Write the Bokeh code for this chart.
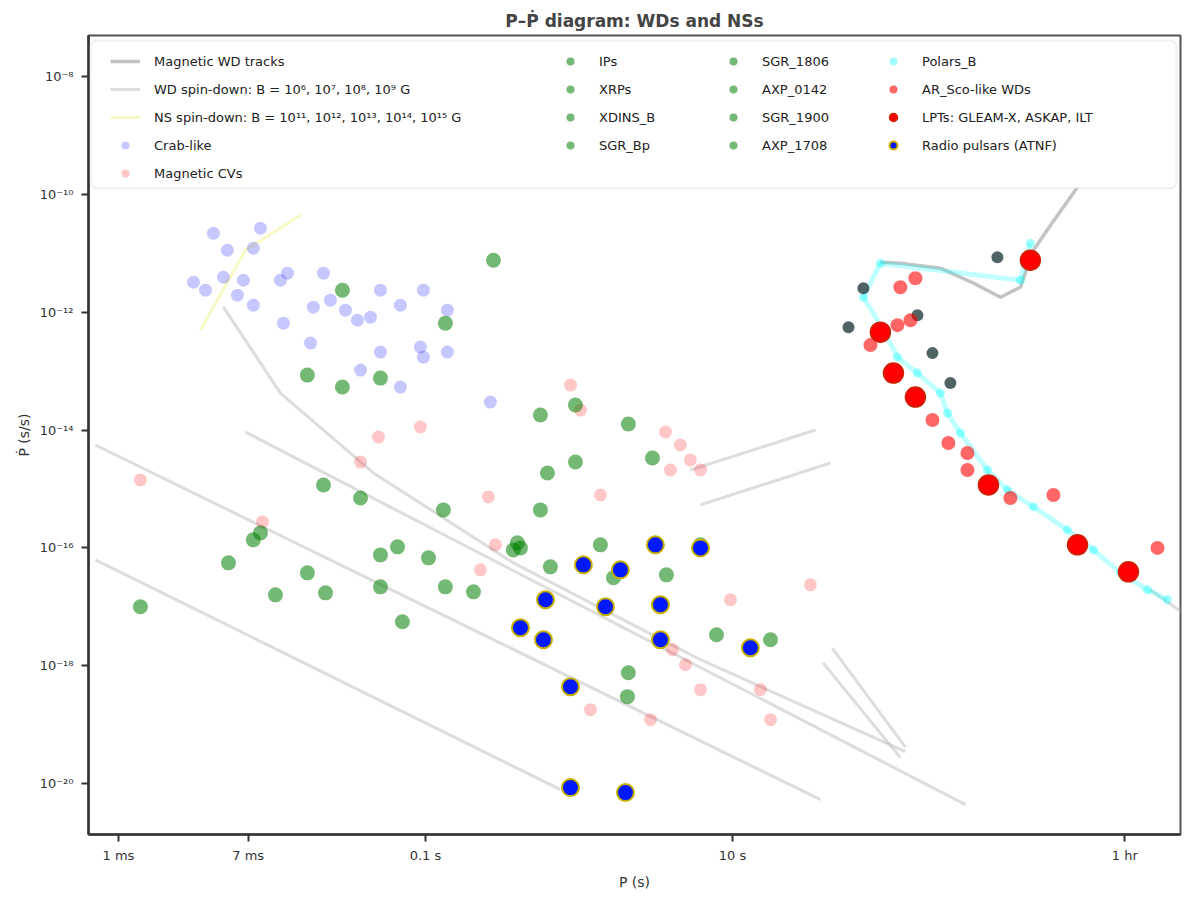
import numpy as np
from bokeh.plotting import figure
from bokeh.models import FixedTicker, Legend, LegendItem, BoxAnnotation, Range1d
from bokeh.embed import file_html
from bokeh.resources import INLINE

# ---------------- data (log10 P [s], log10 Pdot [s/s]) ----------------
x_ticks = [1e-3, 0.007, 0.1, 10, 3600]
x_tick_labels = ["1 ms", "7 ms", "0.1 s", "10 s", "1 hr"]
y_ticks = [1e-8, 1e-10, 1e-12, 1e-14, 1e-16, 1e-18, 1e-20]
y_tick_labels = ["10⁻⁸", "10⁻¹⁰", "10⁻¹²", "10⁻¹⁴", "10⁻¹⁶", "10⁻¹⁸", "10⁻²⁰"]

# pale blue cluster
crab_logP = [-2.381, -2.075, -2.290, -2.121, -2.511, -2.316, -2.186, -2.225, -2.121, -1.945,
             -1.899, -1.664, -1.925, -1.730, -1.749, -1.443, -1.358, -1.293, -1.163, -1.013,
             -0.857, -1.293, -1.033, -1.013, -0.857, -1.423, -1.163, -0.577, -2.433, -1.619, -1.521]
crab_logPdot = [-10.661, -10.576, -10.949, -10.915, -11.492, -11.407, -11.458, -11.712, -11.881, -11.458,
                -11.339, -11.339, -12.186, -11.915, -12.525, -12.136, -12.085, -11.627, -11.881, -11.627,
                -11.966, -12.678, -12.593, -12.763, -12.678, -12.983, -13.271, -13.525, -11.627, -11.797, -11.966]

# pale red points
mcv_logP = [-1.306, -1.033, -0.055, -1.423, -2.857, -2.062, -0.590, -0.544, -0.642, 0.140,
            0.564, 0.661, 0.726, 0.792, 0.596, 1.508, 0.609, 0.694, 0.792, 1.182,
            1.248, 0.466, 0.075, 0.987, 0.010]
mcv_logPdot = [-14.119, -13.949, -13.237, -14.542, -14.847, -15.559, -15.136, -15.949, -16.373, -15.102,
               -14.034, -14.254, -14.508, -14.678, -14.678, -16.627, -17.729, -17.983, -18.407, -18.407,
               -18.915, -18.915, -18.746, -16.881, -13.661]

# green points, 8 groups
green_labels = ["IPs", "XRPs", "XDINS_B", "SGR_Bp", "SGR_1806", "AXP_0142", "SGR_1900", "AXP_1708"]
green_logP = [-0.557, -1.541, -0.870, -1.769, -1.541,
              -1.293, -0.251, -0.023, 0.322, 0.479,
              -0.205, -0.023, -1.664, -1.423, -0.883,
              -0.251, -2.121, -2.075, -2.283, -1.769,
              -1.651, -1.977, -2.857, -1.293, -1.182,
              -1.293, -0.980, -0.870, -0.687, -1.150,
              -0.427, -0.401, -0.186, -0.381, 0.225,
              0.570, 0.896, 0.316, 0.322, 0.140, 0.792, 1.248]
green_logPdot = [-11.119, -11.627, -12.186, -13.068, -13.271,
                 -13.119, -13.746, -13.576, -13.898, -14.475,
                 -14.729, -14.542, -14.932, -15.153, -15.356,
                 -15.356, -15.864, -15.746, -16.254, -16.424,
                 -16.763, -16.797, -17.000, -16.661, -15.983,
                 -16.119, -16.169, -16.661, -16.746, -17.254,
                 -16.034, -15.915, -16.322, -16.000, -16.508,
                 -16.458, -17.475, -18.525, -18.119, -15.949, -15.949, -17.559]
green_group = [0] * 5 + [1] * 5 + [2] * 5 + [3] * 5 + [4] * 5 + [5] * 5 + [6] * 5 + [7] * 7

# bright blue points
psr_logP = [0.498, 0.792, 0.029, -0.218, 0.173, 0.531, -0.381, -0.231, 0.531, 1.117,
            -0.055, -0.055, 0.303, 0.270]
psr_logPdot = [-15.949, -16.000, -16.288, -16.881, -17.000, -16.966, -17.356, -17.559, -17.559, -17.695,
               -18.356, -20.068, -20.153, -16.373]

# light red (right branch)
arsco_logP = [2.094, 2.192, 2.075, 2.160, 2.303, 2.407, 2.531, 2.531, 2.811, 3.091, 3.769, 1.899]
arsco_logPdot = [-11.576, -11.424, -12.220, -12.136, -13.831, -14.220, -14.390, -14.678, -15.153, -15.102,
                 -16.000, -12.559]

# bright red (right branch)
lpt_logP = [2.941, 1.964, 2.049, 2.192, 2.668, 3.248, 3.580]
lpt_logPdot = [-11.119, -12.339, -13.034, -13.441, -14.932, -15.949, -16.407]

# cyan track
polar_logP = [2.941, 2.876, 1.964, 1.853, 1.984, 2.075, 2.205, 2.355, 2.401, 2.485,
              2.661, 2.792, 2.961, 3.182, 3.352, 3.528, 3.704, 3.834]
polar_logPdot = [-10.831, -11.458, -11.169, -11.746, -12.305, -12.763, -13.034, -13.373, -13.712, -14.051,
                 -14.678, -15.017, -15.305, -15.695, -16.034, -16.424, -16.712, -16.881]

# dark grey points (unlabelled)
dark_logP = [2.726, 1.853, 1.756, 2.205, 2.303, 2.420]
dark_logPdot = [-11.068, -11.593, -12.254, -12.051, -12.695, -13.203]

# grey track (right)
track_logP = [3.248, 3.072, 2.961, 2.876, 2.746, 2.570, 2.355, 2.094, 1.964]
track_logPdot = [-9.881, -10.525, -10.949, -11.576, -11.746, -11.508, -11.254, -11.169, -11.153]

# grey spin-down lines (each a polyline)
bline_logP = [[-3.150, -0.121], [-3.150, 1.573], [-2.173, 2.518],
              [-2.316, -1.945, -1.339, -0.427, 0.792, 2.127],
              [0.726, 1.541], [0.792, 1.638], [1.650, 2.127], [1.590, 2.094],
              [3.723, 3.951]]
bline_logPdot = [[-16.203, -20.102], [-14.254, -20.271], [-14.034, -20.356],
                 [-11.915, -13.373, -14.729, -16.254, -17.898, -19.458],
                 [-14.678, -14.000], [-15.271, -14.559], [-17.700, -19.380], [-17.950, -19.560],
                 [-16.712, -17.136]]

# yellow line
ns_logP = [-2.466, -2.173, -1.814]
ns_logPdot = [-12.305, -10.949, -10.356]

col1_labels = ["Magnetic WD tracks", "WD spin-down: B = 10⁶, 10⁷, 10⁸, 10⁹ G",
               "NS spin-down: B = 10¹¹, 10¹², 10¹³, 10¹⁴, 10¹⁵ G", "Crab-like", "Magnetic CVs"]
col4_labels = ["Polars_B", "AR_Sco-like WDs", "LPTs: GLEAM-X, ASKAP, ILT", "Radio pulsars (ATNF)"]

FONT = "DejaVu Sans"

def L(a):
    return 10 ** np.asarray(a, dtype=float)

XMIN, XMAX = -3.195, 3.919
YMIN, YMAX = -20.864, -7.305

p = figure(width=1192, height=892, x_axis_type="log", y_axis_type="log",
           x_range=Range1d(10 ** XMIN, 10 ** XMAX), y_range=Range1d(10 ** YMIN, 10 ** YMAX),
           output_backend="svg", toolbar_location=None,
           min_border_left=88, min_border_right=12, min_border_top=35, min_border_bottom=57)

p.title.text = "P–Ṗ diagram: WDs and NSs"
p.title.align = "center"
p.title.text_font = FONT
p.title.text_font_size = "17px"
p.title.text_color = "#444444"

p.xgrid.visible = False
p.ygrid.visible = False
p.outline_line_color = "#555555"
p.outline_line_width = 2

p.xaxis.ticker = FixedTicker(ticks=x_ticks)
p.xaxis.major_label_overrides = {t: s for t, s in zip(x_ticks, x_tick_labels)}
p.yaxis.ticker = FixedTicker(ticks=y_ticks)
p.yaxis.major_label_overrides = {t: s for t, s in zip(y_ticks, y_tick_labels)}
for ax in (p.xaxis, p.yaxis):
    ax.axis_line_width = 2.5
    ax.axis_line_color = "#333333"
    ax.major_tick_line_color = "#333333"
    ax.major_tick_line_width = 2
    ax.major_tick_out = 7
    ax.major_tick_in = 0
    ax.minor_tick_line_color = None
    ax.major_label_text_font = FONT
    ax.major_label_text_font_size = "13px"
    ax.major_label_text_color = "#333333"
    ax.axis_label_text_font = FONT
    ax.axis_label_text_font_size = "14px"
    ax.axis_label_text_font_style = "normal"
    ax.axis_label_text_color = "#333333"
p.xaxis.axis_label = "P (s)"
p.yaxis.axis_label = "Ṗ (s/s)"
p.yaxis.major_label_standoff = 8
p.xaxis.major_label_standoff = 6
p.xaxis.axis_label_standoff = 8

# grey B lines
bl = p.multi_line([list(L(a)) for a in bline_logP], [list(L(a)) for a in bline_logPdot],
                  line_color="#bbbbbb", line_width=3, line_alpha=0.5)
tr = p.line(L(track_logP), L(track_logPdot), line_color="#aaaaaa", line_width=3.5, line_alpha=0.7)
ns = p.line(L(ns_logP), L(ns_logPdot), line_color="#eeee66", line_width=3, line_alpha=0.4)

# cyan track
p.line(L(polar_logP), L(polar_logPdot), line_color="cyan", line_width=5, line_alpha=0.25)
cy = p.scatter(L(polar_logP), L(polar_logPdot), size=9, fill_color="cyan", fill_alpha=0.35,
               line_color=None)

cr = p.scatter(L(crab_logP), L(crab_logPdot), size=13, fill_color="blue", fill_alpha=0.22,
               line_color=None)
mc = p.scatter(L(mcv_logP), L(mcv_logPdot), size=13, fill_color="red", fill_alpha=0.22,
               line_color=None)

g_lp = np.asarray(green_logP)
g_ld = np.asarray(green_logPdot)
g_gr = np.asarray(green_group)
green_r = []
for k in range(len(green_labels)):
    m = g_gr == k
    green_r.append(p.scatter(L(g_lp[m]), L(g_ld[m]), size=15, fill_color="green", fill_alpha=0.55,
                             line_color=None))

dk = p.scatter(L(dark_logP), L(dark_logPdot), size=12, fill_color="#33494a", fill_alpha=0.85,
               line_color=None)
ar = p.scatter(L(arsco_logP), L(arsco_logPdot), size=14, fill_color="red", fill_alpha=0.6,
               line_color=None)
lp = p.scatter(L(lpt_logP), L(lpt_logPdot), size=20, fill_color="#ff0000", fill_alpha=1.0,
               line_color="#cc2200", line_width=1.5)
ps = p.scatter(L(psr_logP), L(psr_logPdot), size=17, fill_color="#0018ff", fill_alpha=1.0,
               line_color="#c8b000", line_width=2)

# legend frame
p.add_layout(BoxAnnotation(left=10 ** -3.182, right=10 ** 3.893, top=10 ** -7.39, bottom=10 ** -9.898,
                           fill_color="white", fill_alpha=0.85, line_color="#cccccc",
                           line_width=2, border_radius=6))

def add_legend(labels, renderers, x, y):
    items = [LegendItem(label=lab, renderers=[r]) for lab, r in zip(labels, renderers)]
    lg = Legend(items=items, location=(x, y), orientation="vertical",
                border_line_alpha=0, background_fill_alpha=0,
                label_text_font=FONT, label_text_font_size="13px", label_text_color="#222222",
                glyph_width=30, glyph_height=20, label_height=20, spacing=8,
                padding=6, margin=0, label_standoff=14)
    p.add_layout(lg, "center")

add_legend(col1_labels, [tr, bl, ns, cr, mc], 16, 645)
add_legend(green_labels[:4], green_r[:4], 461, 673)
add_legend(green_labels[4:], green_r[4:], 624, 673)
add_legend(col4_labels, [cy, ar, lp, ps], 784, 673)

open("out.html", "w").write(file_html(p, INLINE))
